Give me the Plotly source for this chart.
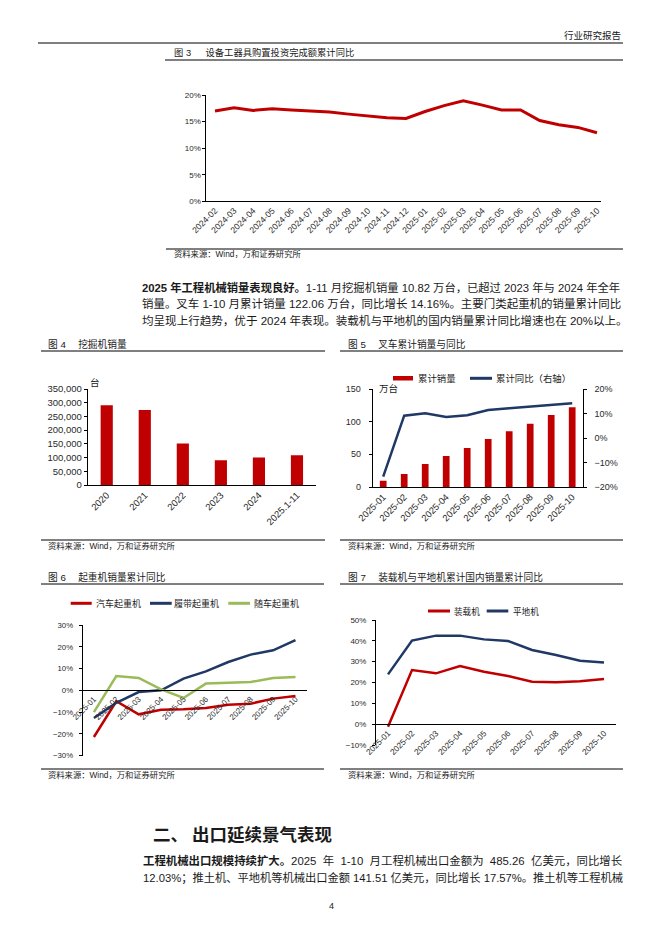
import plotly.graph_objects as go

W, H = 662, 936


def X(px):
    return px / W


def Y(py):
    return 1 - py / H


# ---------------- data ----------------
fig3_months = ['2024-02', '2024-03', '2024-04', '2024-05', '2024-06', '2024-07', '2024-08',
               '2024-09', '2024-10', '2024-11', '2024-12', '2025-01', '2025-02', '2025-03',
               '2025-04', '2025-05', '2025-06', '2025-07', '2025-08', '2025-09', '2025-10']
fig3_yoy = [17.0, 17.6, 17.1, 17.4, 17.2, 17.0, 16.8, 16.4, 16.1, 15.7, 15.6,
            16.9, 18.0, 18.9, 18.1, 17.2, 17.2, 15.2, 14.4, 13.9, 12.9]

fig4_years = ['2020', '2021', '2022', '2023', '2024', '2025.1-11']
fig4_sales = [291000, 273000, 151000, 90000, 100000, 108200]

months_2025 = ['2025-01', '2025-02', '2025-03', '2025-04', '2025-05',
               '2025-06', '2025-07', '2025-08', '2025-09', '2025-10']
fig5_cum_sales = [9.7, 19.9, 35.2, 47.4, 59.7, 73.5, 85.2, 96.9, 110.2, 122.06]
fig5_cum_yoy = [-15.8, 9.1, 10.1, 8.6, 9.3, 11.4, 12.1, 12.8, 13.7, 14.16]

fig6_truck = [-21.4, -5.0, -11.0, -8.9, -8.7, -8.1, -6.6, -6.1, -3.8, -2.6]
fig6_crawler = [-12.7, -5.7, -0.8, 0.0, 5.4, 8.7, 13.0, 16.4, 18.4, 23.1]
fig6_truck_mounted = [-10.0, 6.6, 5.7, 0.4, -3.5, 3.1, 3.5, 3.8, 5.7, 6.1]

fig7_loader = [-1.2, 26.0, 24.4, 27.9, 25.2, 23.1, 20.4, 20.1, 20.6, 21.7]
fig7_grader = [23.9, 40.1, 42.5, 42.5, 40.7, 39.9, 35.6, 33.2, 30.4, 29.6]

RED = '#C00000'
NAVY = '#1F3864'
GREEN = '#9BBB59'
TXT = '#1a1a1a'
TICK = '#2a2a2a'
CJK = 'Noto Sans CJK SC'
MIX = 'Liberation Sans, Noto Sans CJK SC'
LAT = 'Liberation Sans'

fig = go.Figure()

# Figure 3
fig.add_trace(go.Scatter(x=fig3_months, y=fig3_yoy, mode='lines', name='设备工器具购置投资完成额累计同比',
                         line=dict(color=RED, width=3), xaxis='x', yaxis='y', showlegend=False))
# Figure 4
fig.add_trace(go.Bar(x=fig4_years, y=fig4_sales, name='挖掘机销量', marker=dict(color=RED, line=dict(width=0)),
                     width=0.32, xaxis='x2', yaxis='y2', showlegend=False))
# Figure 5
fig.add_trace(go.Bar(x=months_2025, y=fig5_cum_sales, name='累计销量', marker=dict(color=RED, line=dict(width=0)),
                     width=0.32, xaxis='x3', yaxis='y3', showlegend=False))
fig.add_trace(go.Scatter(x=months_2025, y=fig5_cum_yoy, mode='lines', name='累计同比（右轴）',
                         line=dict(color=NAVY, width=2.5), xaxis='x3', yaxis='y4', showlegend=False))
# Figure 6
fig.add_trace(go.Scatter(x=months_2025, y=fig6_truck, mode='lines', name='汽车起重机',
                         line=dict(color=RED, width=2.5), xaxis='x4', yaxis='y5', showlegend=False))
fig.add_trace(go.Scatter(x=months_2025, y=fig6_crawler, mode='lines', name='履带起重机',
                         line=dict(color=NAVY, width=2.5), xaxis='x4', yaxis='y5', showlegend=False))
fig.add_trace(go.Scatter(x=months_2025, y=fig6_truck_mounted, mode='lines', name='随车起重机',
                         line=dict(color=GREEN, width=2.5), xaxis='x4', yaxis='y5', showlegend=False))
# Figure 7
fig.add_trace(go.Scatter(x=months_2025, y=fig7_loader, mode='lines', name='装载机',
                         line=dict(color=RED, width=2.5), xaxis='x5', yaxis='y6', showlegend=False))
fig.add_trace(go.Scatter(x=months_2025, y=fig7_grader, mode='lines', name='平地机',
                         line=dict(color=NAVY, width=2.5), xaxis='x5', yaxis='y6', showlegend=False))


def ax(size=8, **kw):
    d = dict(showgrid=False, zeroline=False, showline=True, linecolor='#000000', linewidth=1,
             ticks='', tickfont=dict(family=LAT, size=size, color=TICK), fixedrange=True,
             automargin=False)
    d.update(kw)
    return d


y5_dom = [Y(755.7), Y(625)]
y6_dom = [Y(745), Y(620)]

fig.update_layout(
    width=W, height=H, margin=dict(l=0, r=0, t=0, b=0, pad=0, autoexpand=False),
    paper_bgcolor='white', plot_bgcolor='rgba(0,0,0,0)', hovermode=False, showlegend=False,
    xaxis=ax(8.6, domain=[X(206.4), X(600.8)], anchor='y', type='category', range=[-0.45, 20.2], tickangle=-45),
    yaxis=ax(8, domain=[Y(201.3), Y(95)], anchor='x', range=[0, 20], dtick=5, ticksuffix='%',
             ticks='outside', ticklen=3, tickcolor='#000'),
    xaxis2=ax(9.5, domain=[X(87.7), X(316)], anchor='y2', type='category', range=[-0.5, 5.5], tickangle=-45),
    yaxis2=ax(9.5, domain=[Y(485), Y(389)], anchor='x2', range=[0, 350000], dtick=50000, tickformat=',',
              ticks='outside', ticklen=3, tickcolor='#000'),
    xaxis3=ax(9.3, domain=[X(372.7), X(582.7)], anchor='y3', type='category', range=[-0.5, 9.5], tickangle=-45),
    yaxis3=ax(9, domain=[Y(487), Y(389)], anchor='x3', range=[0, 150], dtick=50,
              ticks='outside', ticklen=3, tickcolor='#000', ticklabelstandoff=6),
    yaxis4=ax(9, domain=[Y(487), Y(389)], anchor='x3', overlaying='y3', side='right', range=[-20, 20], dtick=10,
              ticksuffix='%', ticks='outside', ticklen=3, tickcolor='#000', ticklabelstandoff=6),
    xaxis4=ax(8, domain=[X(82.7), X(306.7)], anchor='free', position=(y5_dom[0] + y5_dom[1]) / 2,
              type='category', range=[-0.5, 9.5], tickangle=-45),
    yaxis5=ax(7.8, domain=y5_dom, anchor='x4', range=[-30, 30], dtick=10, ticksuffix='%',
              ticks='outside', ticklen=3, tickcolor='#000', ticklabelstandoff=4),
    xaxis5=ax(8.3, domain=[X(376), X(616)], anchor='free', position=y6_dom[0] + (10 / 60) * (y6_dom[1] - y6_dom[0]),
              type='category', range=[-0.5, 9.5], tickangle=-45),
    yaxis6=ax(8, domain=y6_dom, anchor='x5', range=[-10, 50], dtick=10, ticksuffix='%',
              ticks='outside', ticklen=3, tickcolor='#000', ticklabelstandoff=4),
)

shapes = []


def hline(x0, x1, y, w=1):
    shapes.append(dict(type='line', xref='paper', yref='paper', x0=X(x0), x1=X(x1), y0=Y(y), y1=Y(y),
                       line=dict(color='#000000', width=w)))


hline(38, 623, 43)
hline(165, 623, 60)
hline(166, 623, 249)
hline(41, 325, 351)
hline(41, 325, 540)
hline(340, 623, 351)
hline(340, 623, 540)
hline(41, 324, 584)
hline(41, 324, 769)
hline(340, 623, 584)
hline(340, 623, 769)


# legend keys (not data marks)
def key_line(x0, x1, y, color):
    shapes.append(dict(type='line', xref='paper', yref='paper', x0=X(x0), x1=X(x1), y0=Y(y), y1=Y(y),
                       line=dict(color=color, width=3)))


shapes.append(dict(type='rect', xref='paper', yref='paper', x0=X(393), x1=X(413), y0=Y(380.5), y1=Y(376),
                   fillcolor=RED, line=dict(width=0)))
key_line(470, 492, 378.3, NAVY)
key_line(70.7, 91.7, 603.3, RED)
key_line(150, 171.7, 603.3, NAVY)
key_line(228.3, 250, 603.3, GREEN)
key_line(428, 450, 611, RED)
key_line(486.7, 508.3, 611, NAVY)

fig.update_layout(shapes=shapes)

anns = []


def text(x, y, s, size=9, anchor='left', family=MIX, color=TXT):
    anns.append(dict(xref='paper', yref='paper', x=X(x), y=Y(y), text=s, showarrow=False,
                     xanchor=anchor, yanchor='middle', font=dict(family=family, size=size, color=color),
                     borderpad=0))


SRC = '资料来源：Wind，万和证券研究所'

text(622, 35, '行业研究报告', 9.5, 'right', CJK)
# Figure 3
text(173, 52, '图 3\u3000\u00a0\u00a0设备工器具购置投资完成额累计同比', 9.3)
text(173, 254.5, SRC, 8.3)
# paragraph
text(141, 287.5, '<b>2025 年工程机械销量表现良好。</b>1-11 月挖掘机销量 10.82 万台，已超过 2023 年与 2024 年全年', 11.3)
text(141, 304, '销量。叉车 1-10 月累计销量 122.06 万台，同比增长 14.16%。主要门类起重机的销量累计同比', 11.46)
text(141, 320.5, '均呈现上行趋势，优于 2024 年表现。装载机与平地机的国内销量累计同比增速也在 20%以上。', 11.56)
# Figure 4
text(46.7, 344.3, '图 4\u3000\u00a0挖掘机销量', 9.7)
text(95, 381.7, '台', 9.5, 'center', CJK)
text(46.7, 546, SRC, 8.3)
# Figure 5
text(346.7, 344.3, '图 5\u3000\u00a0叉车累计销量与同比', 9.7)
text(378, 387.7, '万台', 9.5, 'left', CJK)
text(417, 378.3, '累计销量', 9.4, 'left', CJK)
text(495, 378.3, '累计同比（右轴）', 9.4, 'left', CJK)
text(346.7, 546, SRC, 8.3)
# Figure 6
text(46.7, 576.7, '图 6\u3000\u00a0起重机销量累计同比', 9.7)
text(95, 603.3, '汽车起重机', 9, 'left', CJK)
text(173.3, 603.3, '履带起重机', 9, 'left', CJK)
text(252.7, 603.3, '随车起重机', 9, 'left', CJK)
text(46.7, 775, SRC, 8.3)
# Figure 7
text(346.7, 576.7, '图 7\u3000\u00a0装载机与平地机累计国内销量累计同比', 9.7)
text(453.3, 611, '装载机', 8.6, 'left', CJK)
text(511.7, 611, '平地机', 8.6, 'left', CJK)
text(346.7, 775, SRC, 8.3)
# section heading + paragraph
text(152, 833, '<b>二、 出口延续景气表现</b>', 17.5, 'left', CJK)
text(141.7, 860, '<b>工程机械出口规模持续扩大。</b>2025\u00a0 年\u00a0 1-10\u00a0 月工程机械出口金额为\u00a0 485.26\u00a0 亿美元，同比增长', 11.4)
text(141.7, 877, '12.03%；推土机、平地机等机械出口金额 141.51 亿美元，同比增长 17.57%。推土机等工程机械', 11.26)
text(331, 906, '4', 9, 'center', LAT)

fig.update_layout(annotations=anns)

fig.write_html('out.html', config={'displayModeBar': False, 'responsive': False},
               post_script="document.body.style.margin='0';document.body.style.overflow='hidden';")
